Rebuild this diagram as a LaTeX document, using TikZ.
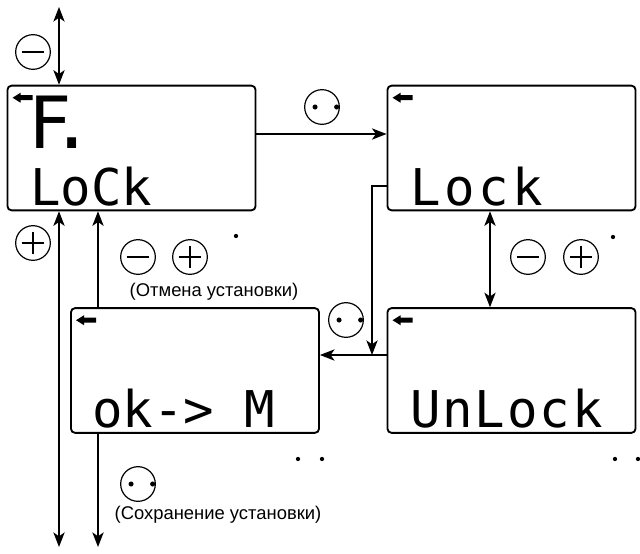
\documentclass[tikz,border=0pt]{standalone}
\usepackage{fontspec}
\setmainfont{Liberation Sans}
\newfontfamily\lcdfont{DejaVu Sans Mono}
\usetikzlibrary{arrows.meta}

\newcommand{\lcdgap}{\kern2.8pt}
\newcommand{\lcdgapb}{\kern1.4pt}

\begin{document}
\begin{tikzpicture}[x=0.75pt,y=-0.75pt,
    lcd/.style={draw, line width=1.4pt, rounded corners=3pt,
        minimum width=186pt, minimum height=93.5pt, inner sep=0pt},
    lcdtxt/.style={anchor=base west, inner sep=0pt, font=\lcdfont\fontsize{38}{38}\selectfont},
    flow/.style={line width=1pt, -{Stealth[length=11pt,width=8.5pt,inset=3pt]}},
    both/.style={line width=1pt, {Stealth[length=11pt,width=8.5pt,inset=3pt]}-{Stealth[length=11pt,width=8.5pt,inset=3pt]}},
    btn/.style={draw, circle, line width=0.9pt, minimum size=26pt, inner sep=0pt},
    minusbtn/.style={btn, path picture={
        \draw[line width=0.9pt] ([xshift=4.5pt]path picture bounding box.west)
            -- ([xshift=-4.5pt]path picture bounding box.east);}},
    plusbtn/.style={btn, path picture={
        \draw[line width=0.9pt] ([xshift=4.5pt]path picture bounding box.west)
            -- ([xshift=-4.5pt]path picture bounding box.east);
        \draw[line width=0.9pt] ([yshift=-4.5pt]path picture bounding box.north)
            -- ([yshift=4.5pt]path picture bounding box.south);}},
    okbtn/.style={btn},
    note/.style={font=\fontsize{13.8}{16}\selectfont},
    backicon/.pic={\fill (0,0) -- (8,-5) -- (8,-2.5) -- (20,-2.5) -- (20,2.5) -- (8,2.5) -- (8,5) -- cycle;}
]
\useasboundingbox (0,0) rectangle (640,554);

% display windows
\node[lcd] (lcdF) at (131.5,148) {};
\node[lcd] (lcdLock) at (511.5,148) {};
\node[lcd] (lcdOk) at (195,370.5) {};
\node[lcd] (lcdUnlock) at (511.5,370.5) {};

\foreach \b in {lcdF,lcdLock,lcdOk,lcdUnlock}
    \pic at ([shift={(6,13)}]\b.north west) {backicon};

\node[lcdtxt, font=\lcdfont\fontsize{54}{54}\selectfont] (txtF) at (28,148) {F\kern-0.3em.};
\node[lcdtxt] (txtLoCk) at (30,205) {LoCk};
\node[lcdtxt] (txtLock) at (410,205) {L\lcdgap o\lcdgap c\lcdgap k};
\node[lcdtxt] (txtUnlock) at (410,427) {U\lcdgapb n\lcdgapb L\lcdgapb o\lcdgapb c\lcdgapb k};
\node[lcdtxt] (txtOk) at (92,427) {ok-> M};

% keys
\node[minusbtn] (minTop) at (33,52) {};
\node[plusbtn] (plusLeft) at (33,243) {};
\node[minusbtn] (minCancel) at (138,257) {};
\node[plusbtn] (plusCancel) at (190,257) {};
\node[note] (cancelTxt) at (214,292) {(Отмена установки)};
\node[okbtn] (okTop) at (322,107) {};
\node[okbtn] (okMid) at (346,320) {};
\node[minusbtn] (minRight) at (528,257) {};
\node[plusbtn] (plusRight) at (581,257) {};
\node[okbtn] (okSave) at (138,484) {};
\node[note] (saveTxt) at (218,515) {(Сохранение установки)};

\foreach \b in {okTop,okMid,okSave} {
    \fill ([xshift=-5.2pt]\b.center) circle (1.9pt);
    \fill ([xshift=11pt]\b.center) circle (1.9pt);
}

\foreach \p in {(236,236),(613,237),(298,459),(322,459),(615,459),(638,459)}
    \fill \p circle (1.6pt);

% connectors
\coordinate (topEnd) at (59,7);
\coordinate (botA) at (59,547);
\coordinate (botB) at (98,547);
\coordinate (join) at (372,355);
\coordinate (midX) at (490,0);

\draw[both] (topEnd) -- (topEnd |- lcdF.north);
\draw[both] (lcdF.south -| botA) -- (botA);
\draw[flow] (lcdOk.north -| botB) -- (lcdF.south -| botB);
\draw[flow] (lcdOk.south -| botB) -- (botB);
\draw[flow] ([yshift=10.5pt]lcdF.east) -- ([yshift=10.5pt]lcdLock.west);
\draw[flow] ([yshift=-28.5pt]lcdLock.west) -| (join);
\draw[flow] (lcdUnlock.west |- join) -- (lcdOk.east |- join);
\draw[both] (lcdLock.south -| midX) -- (lcdUnlock.north -| midX);
\end{tikzpicture}
\end{document}
